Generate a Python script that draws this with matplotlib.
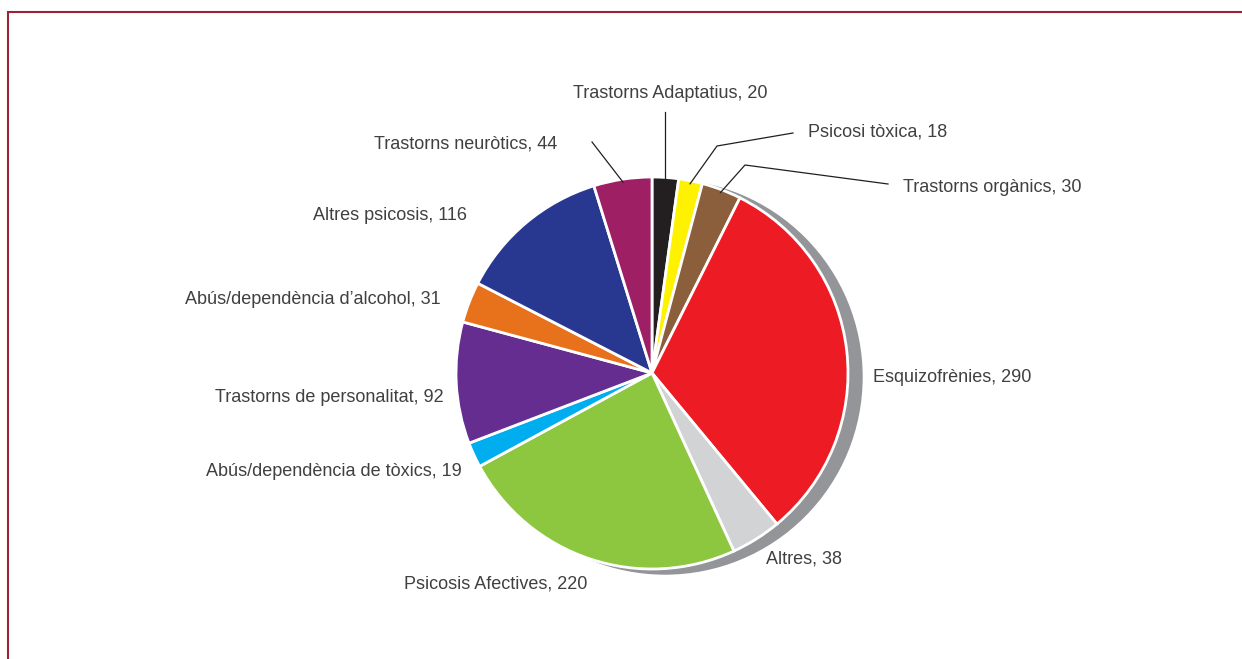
import numpy as np
import matplotlib.pyplot as plt
from matplotlib.patches import Circle

plt.rcParams['font.family'] = ['Liberation Sans', 'DejaVu Sans']

# data (clockwise from the top)
labels = ["Trastorns Adaptatius", "Psicosi tòxica", "Trastorns orgànics",
          "Esquizofrènies", "Altres", "Psicosis Afectives",
          "Abús/dependència de tòxics", "Trastorns de personalitat",
          "Abús/dependència d’alcohol", "Altres psicosis", "Trastorns neuròtics"]
values = [20, 18, 30, 290, 38, 220, 19, 92, 31, 116, 44]
colors = ["#231f20", "#fff200", "#8b5e3c", "#ed1c24", "#d1d3d4", "#8dc63f",
          "#00aeef", "#662d91", "#e8711c", "#283891", "#9e1f63"]

W, H = 1242, 659
cx, cy, R = 652, H - 373, 196

fig = plt.figure(figsize=(W / 100, H / 100), dpi=100)
ax = fig.add_axes([0, 0, 1, 1])

# drop shadow
ax.add_patch(Circle((cx + 13, cy - 4), R + 1, color="#939598", zorder=0))

wedges, _ = ax.pie(values, center=(cx, cy), radius=R, startangle=90,
                   counterclock=False, colors=colors,
                   wedgeprops=dict(edgecolor="white", linewidth=2))
for w in wedges:
    w.set_zorder(2)

ax.set_xlim(0, W)
ax.set_ylim(0, H)
ax.set_aspect('equal')
ax.axis('off')

# label layout in pixel coords (x, y from top), alignment, leader path
layout = {
    "Trastorns Adaptatius": (670, 93, 'center', [(665, 112)]),
    "Psicosi tòxica": (808, 132, 'left', [(717, 146), (793, 133)]),
    "Trastorns orgànics": (903, 188, 'left', [(745, 165), (888, 184)]),
    "Esquizofrènies": (873, 378, 'left', None),
    "Altres": (766, 559, 'left', None),
    "Psicosis Afectives": (404, 584, 'left', None),
    "Abús/dependència de tòxics": (462, 472, 'right', None),
    "Trastorns de personalitat": (444, 397, 'right', None),
    "Abús/dependència d’alcohol": (441, 300, 'right', None),
    "Altres psicosis": (467, 216, 'right', None),
    "Trastorns neuròtics": (557, 144, 'right', [(592, 142)]),
}

for w, lab, v in zip(wedges, labels, values):
    x, y, ha, path = layout[lab]
    ax.text(x, H - y, f"{lab}, {v}", ha=ha, va='center', fontsize=13,
            color="#404040", zorder=5)
    if path:
        mid = np.deg2rad((w.theta1 + w.theta2) / 2)
        r0 = R - 3
        xs = [cx + r0 * np.cos(mid)] + [p[0] for p in path]
        ys = [cy + r0 * np.sin(mid)] + [H - p[1] for p in path]
        if lab == "Trastorns Adaptatius":
            xs[1] = xs[0]
        ax.plot(xs, ys, color="#231f20", lw=0.9, zorder=4)

# frame lines
ax.plot([8, 8, W], [0, H - 12, H - 12], color="#9b2335", lw=1.5,
        solid_joinstyle='miter', zorder=6)

fig.savefig("out.png", dpi=100)
